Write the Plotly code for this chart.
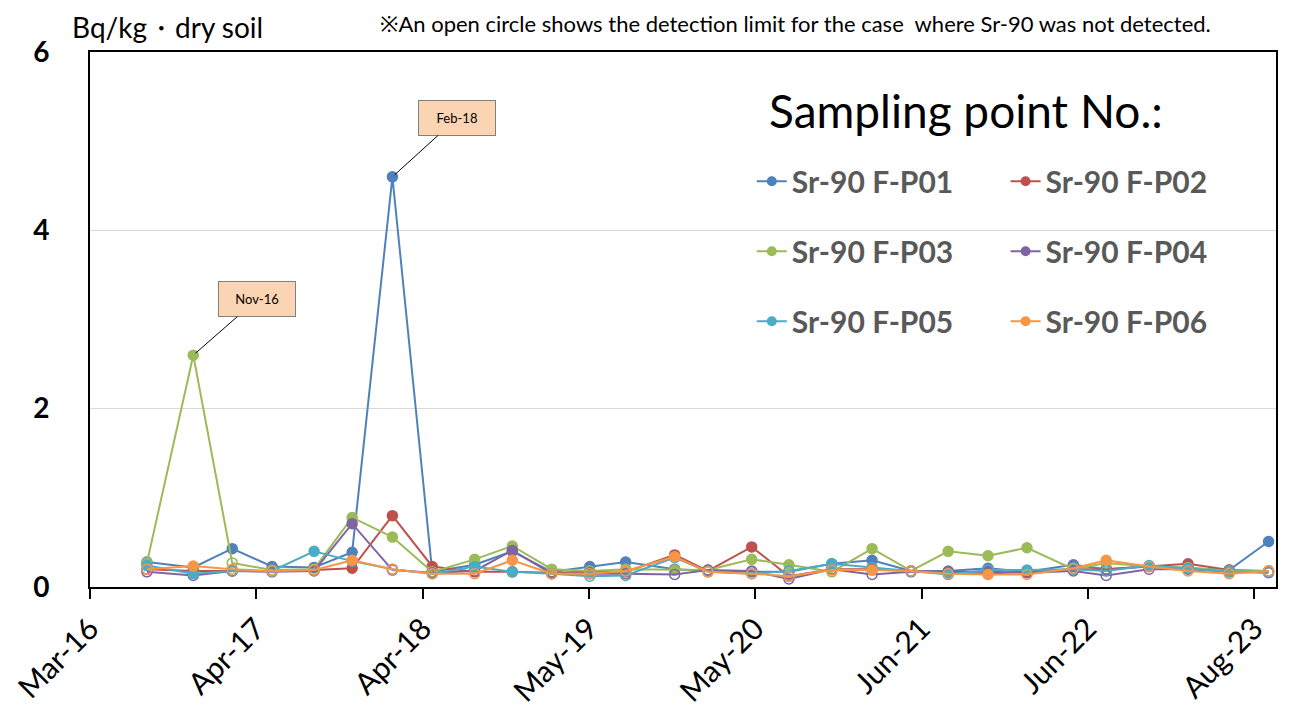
import plotly.graph_objects as go

# ==========================================================
# DATA
# ==========================================================

dates = [
    "2016-08-02", "2016-11-16", "2017-02-13", "2017-05-15", "2017-08-19",
    "2017-11-14", "2018-02-14", "2018-05-16", "2018-08-21", "2018-11-15",
    "2019-02-13", "2019-05-11", "2019-08-01", "2019-11-21", "2020-02-05",
    "2020-05-15", "2020-08-08", "2020-11-14", "2021-02-14", "2021-05-14",
    "2021-08-07", "2021-11-06", "2022-02-03", "2022-05-20", "2022-08-03",
    "2022-11-09", "2023-02-06", "2023-05-11", "2023-08-09",
]

p01 = [0.28, 0.22, 0.43, 0.23, 0.22, 0.39, 4.60, 0.17, 0.25, 0.40,
       0.17, 0.23, 0.28, 0.20, 0.18, 0.17, 0.17, 0.26, 0.30, 0.18,
       0.18, 0.21, 0.17, 0.25, 0.20, 0.23, 0.21, 0.19, 0.51]
p02 = [0.20, 0.18, 0.18, 0.18, 0.19, 0.21, 0.80, 0.23, 0.17, 0.17,
       0.16, 0.17, 0.17, 0.36, 0.18, 0.45, 0.12, 0.20, 0.20, 0.18,
       0.16, 0.15, 0.17, 0.20, 0.20, 0.23, 0.26, 0.19, 0.18]
p03 = [0.27, 2.60, 0.27, 0.19, 0.20, 0.78, 0.56, 0.17, 0.31, 0.46,
       0.20, 0.18, 0.20, 0.19, 0.19, 0.31, 0.25, 0.17, 0.43, 0.18,
       0.40, 0.35, 0.44, 0.20, 0.27, 0.23, 0.22, 0.18, 0.18]
p04 = [0.17, 0.13, 0.18, 0.17, 0.18, 0.71, 0.19, 0.16, 0.18, 0.41,
       0.15, 0.15, 0.15, 0.14, 0.19, 0.18, 0.09, 0.20, 0.14, 0.17,
       0.17, 0.17, 0.16, 0.18, 0.13, 0.20, 0.20, 0.17, 0.16]
p05 = [0.24, 0.15, 0.18, 0.18, 0.40, 0.29, 0.20, 0.15, 0.23, 0.17,
       0.15, 0.12, 0.13, 0.33, 0.17, 0.15, 0.18, 0.26, 0.22, 0.18,
       0.14, 0.19, 0.19, 0.20, 0.18, 0.24, 0.21, 0.17, 0.17]
p06 = [0.20, 0.235, 0.20, 0.18, 0.19, 0.30, 0.20, 0.15, 0.15, 0.30,
       0.15, 0.15, 0.18, 0.34, 0.17, 0.15, 0.12, 0.19, 0.19, 0.18,
       0.15, 0.14, 0.14, 0.21, 0.30, 0.23, 0.18, 0.15, 0.18]

# 1 = detected (filled marker), 0 = not detected (open circle, detection limit)
det01 = [1, 1, 1, 1, 1, 1, 1, 0, 1, 1, 0, 1, 1, 0, 0, 0, 0, 1, 1, 0,
         0, 1, 0, 1, 0, 0, 0, 0, 1]
det02 = [0, 0, 0, 0, 0, 1, 1, 1, 0, 0, 0, 0, 0, 1, 0, 1, 0, 0, 0, 0,
         0, 0, 0, 0, 0, 0, 1, 0, 0]
det03 = [1, 1, 0, 0, 0, 1, 1, 0, 1, 1, 1, 0, 1, 1, 0, 1, 1, 0, 1, 0,
         1, 1, 1, 0, 0, 0, 0, 0, 0]
det04 = [0, 0, 0, 0, 0, 1, 0, 0, 0, 1, 0, 0, 0, 0, 0, 0, 0, 0, 0, 0,
         0, 0, 0, 0, 0, 0, 0, 0, 0]
det05 = [1, 1, 0, 0, 1, 0, 0, 0, 1, 1, 0, 0, 0, 0, 0, 0, 0, 1, 0, 0,
         1, 0, 1, 0, 0, 1, 1, 0, 0]
det06 = [0, 1, 0, 0, 0, 1, 0, 0, 0, 1, 0, 0, 0, 1, 0, 0, 0, 0, 1, 0,
         0, 1, 0, 0, 1, 0, 0, 0, 0]

series_names = ["Sr-90 F-P01", "Sr-90 F-P02", "Sr-90 F-P03",
                "Sr-90 F-P04", "Sr-90 F-P05", "Sr-90 F-P06"]

tick_dates = ["2016-03-25", "2017-04-09", "2018-04-24", "2019-05-09",
              "2020-05-23", "2021-06-07", "2022-06-22", "2023-07-07"]
tick_labels = ["Mar-16", "Apr-17", "Apr-18", "May-19",
               "May-20", "Jun-21", "Jun-22", "Aug-23"]

# ==========================================================
# FIGURE
# ==========================================================

colors = ["#4F81BD", "#C0504D", "#9BBB59", "#8064A2", "#4BACC6", "#F79646"]
values = [p01, p02, p03, p04, p05, p06]
detected = [det01, det02, det03, det04, det05, det06]
legend_ids = ["legend", "legend2", "legend", "legend2", "legend", "legend2"]

fig = go.Figure()

for i in range(6):
    fig.add_trace(
        go.Scatter(
            x=dates,
            y=values[i],
            name=series_names[i],
            mode="lines+markers",
            line=dict(color=colors[i], width=2),
            marker=dict(
                color=colors[i],
                size=10,
                symbol=["circle" if d else "circle-open" for d in detected[i]],
                line=dict(color=colors[i], width=1.5),
            ),
            showlegend=False,
        )
    )

# legend entries (filled dot on a line, as in the original legend)
for i in range(6):
    fig.add_trace(
        go.Scatter(
            x=[None],
            y=[None],
            name=series_names[i],
            mode="lines+markers",
            line=dict(color=colors[i], width=2),
            marker=dict(color=colors[i], size=10, symbol="circle"),
            legend=legend_ids[i],
            legendgroup=series_names[i],
        )
    )

legend_font = dict(size=30, color="#595959", family="Lato", weight="bold")

fig.update_layout(
    width=1289,
    height=703,
    paper_bgcolor="white",
    plot_bgcolor="white",
    font=dict(family="Lato, Noto Sans, sans-serif", color="black"),
    margin=dict(l=82, r=21, t=44, b=124),
    legend=dict(
        x=0.558, y=0.807, xanchor="left", yanchor="top",
        font=legend_font,
        tracegroupgap=28,
        bgcolor="rgba(0,0,0,0)",
        itemwidth=30,
    ),
    legend2=dict(
        x=0.772, y=0.807, xanchor="left", yanchor="top",
        font=legend_font,
        tracegroupgap=28,
        bgcolor="rgba(0,0,0,0)",
        itemwidth=30,
    ),
)

fig.update_xaxes(
    type="date",
    range=["2016-03-25", "2023-08-26"],
    tickvals=tick_dates,
    ticktext=tick_labels,
    tickangle=-45,
    tickfont=dict(size=30),
    ticklabeloverflow="allow",
    ticks="outside",
    ticklen=10,
    tickwidth=2,
    tickcolor="black",
    showline=True,
    linecolor="black",
    linewidth=2,
    mirror=True,
    showgrid=False,
    automargin=False,
)

fig.update_yaxes(
    range=[0, 6],
    dtick=2,
    tickfont=dict(size=28, family="Lato", weight="bold"),
    ticklabelstandoff=33,
    showline=True,
    linecolor="black",
    linewidth=2,
    mirror=True,
    showgrid=True,
    gridcolor="#D9D9D9",
    zeroline=False,
    automargin=False,
)

# Annotations -----------------------------------------------

fig.add_annotation(
    x=-0.017, y=1.047, xref="paper", yref="paper",
    text="Bq/kg・dry soil", showarrow=False,
    xanchor="left", yanchor="middle",
    font=dict(size=28),
)

fig.add_annotation(
    x=0.243, y=1.054, xref="paper", yref="paper",
    text="※An open circle shows the detection limit for the case  where Sr-90 was not detected.",
    showarrow=False, xanchor="left", yanchor="middle",
    font=dict(size=22),
)

fig.add_annotation(
    x=0.571, y=0.891, xref="paper", yref="paper",
    text="Sampling point No.:", showarrow=False,
    xanchor="left", yanchor="middle",
    font=dict(size=46),
)

label_boxes = [("Nov-16", dates[1], p03[1], 64, -56),
               ("Feb-18", dates[6], p01[6], 65, -59)]

for txt, xv, yv, ax, ay in label_boxes:
    fig.add_annotation(
        x=xv, y=yv, text=txt,
        showarrow=True, arrowhead=0, arrowwidth=1, arrowcolor="black",
        ax=ax, ay=ay, standoff=3,
        bgcolor="#FBD4B4", bordercolor="#7F7F7F", borderwidth=1,
        borderpad=9, width=58,
        font=dict(size=13, color="black"),
    )

fig.write_html("out.html")
